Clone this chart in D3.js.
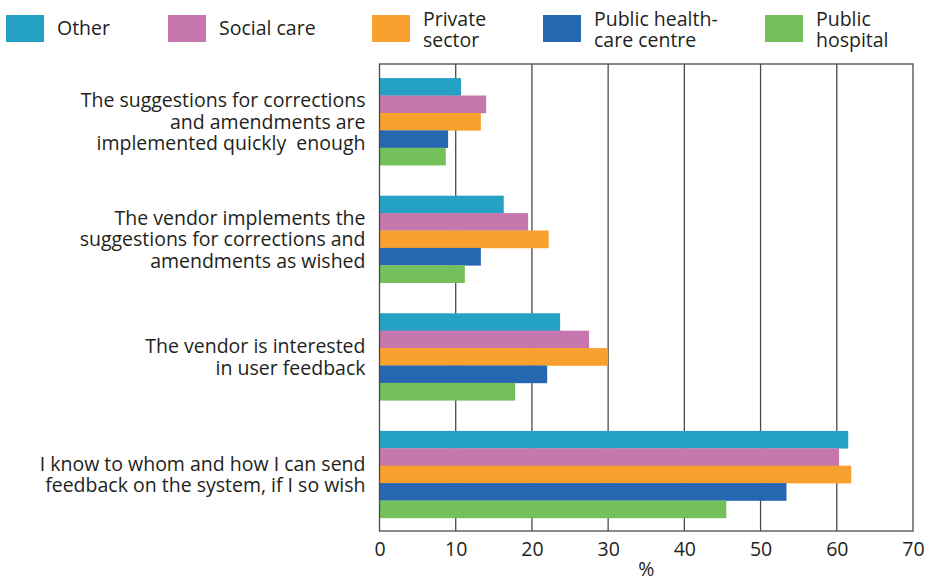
<!DOCTYPE html>
<html><head><meta charset="utf-8">
<script src="https://cdn.jsdelivr.net/npm/d3@7"></script>
<style>body{margin:0;background:#fff;} text{font-family:"Open Sans",sans-serif;fill:#231f20;white-space:pre;}</style>
</head><body><svg id="c" width="926" height="582"></svg>
<script>
const categories = [
  ["The suggestions for corrections","and amendments are","implemented quickly  enough"],
  ["The vendor implements the","suggestions for corrections and","amendments as wished"],
  ["The vendor is interested","in user feedback"],
  ["I know to whom and how I can send","feedback on the system, if I so wish"]
];
const seriesNames = ["Other","Social care","Private sector","Public health-care centre","Public hospital"];
const legendLabels = [["Other"],["Social care"],["Private","sector"],["Public health-","care centre"],["Public","hospital"]];
const colors = ["#25a1c5","#c677ae","#f9a12e","#2667b1","#74c05a"];
const other      = [10.7, 16.3, 23.7, 61.5];
const socialCare = [14.0, 19.5, 27.5, 60.3];
const privateSec = [13.3, 22.2, 30.0, 61.9];
const healthCtr  = [9.0, 13.3, 22.0, 53.4];
const hospital   = [8.7, 11.2, 17.8, 45.5];
const seriesValues = [other, socialCare, privateSec, healthCtr, hospital];
const xTicks = [0,10,20,30,40,50,60,70];

const FS = "19.5px";
const svg = d3.select("#c");
const L = 379.5, R = 913, T = 64, B = 531;
const x = d3.scaleLinear().domain([0,70]).range([L,R]);
const y = d3.scaleBand().domain(d3.range(categories.length)).range([T,532]).paddingInner(0.26).paddingOuter(0.12);
const ys = d3.scaleBand().domain(d3.range(seriesNames.length)).range([0,y.bandwidth()]);

// gridlines
svg.append("g").selectAll("line").data(xTicks.slice(1,-1)).join("line")
  .attr("x1",d=>x(d)).attr("x2",d=>x(d)).attr("y1",T).attr("y2",B)
  .attr("stroke","#4a4a4a").attr("stroke-width",1.3);

// bars
categories.forEach((c,ci)=>{
  seriesValues.forEach((vals,si)=>{
    svg.append("rect").attr("x",x(0)).attr("y",y(ci)+ys(si))
      .attr("width",x(vals[ci])-x(0)).attr("height",ys.bandwidth()+0.3)
      .attr("fill",colors[si]);
  });
});

// frame
svg.append("rect").attr("x",L).attr("y",T).attr("width",R-L).attr("height",B-T)
  .attr("fill","none").attr("stroke","#4a4a4a").attr("stroke-width",1.3);

// x axis
const xa = svg.append("g").attr("transform",`translate(0,${B})`).call(d3.axisBottom(x).tickValues(xTicks).tickSize(0).tickPadding(10));
xa.select(".domain").remove();
xa.selectAll("text").attr("dy",null).attr("y",25).style("font-size",FS).attr("fill","#231f20").style("font-family","'Open Sans',sans-serif");
svg.append("text").attr("x",(x(30)+x(40))/2).attr("y",576).attr("text-anchor","middle").style("font-size",FS).text("%");

// category labels
categories.forEach((lines,ci)=>{
  const cy = y(ci)+y.bandwidth()/2;
  const lh = 21.5;
  lines.forEach((ln,i)=>{
    svg.append("text").attr("text-anchor","end").style("font-size",FS)
      .attr("x",L-14).attr("y",cy+(i-(lines.length-1)/2)*lh+7).text(ln);
  });
});

// legend
const legX = [6,168,372,543,765];
legendLabels.forEach((lines,i)=>{
  svg.append("rect").attr("x",legX[i]).attr("y",15).attr("width",38).attr("height",27).attr("fill",colors[i]);
  lines.forEach((ln,j)=>{
    svg.append("text").style("font-size",FS)
      .attr("x",legX[i]+51).attr("y",lines.length===1?35:(26+j*21)).text(ln);
  });
});
</script></body></html>
